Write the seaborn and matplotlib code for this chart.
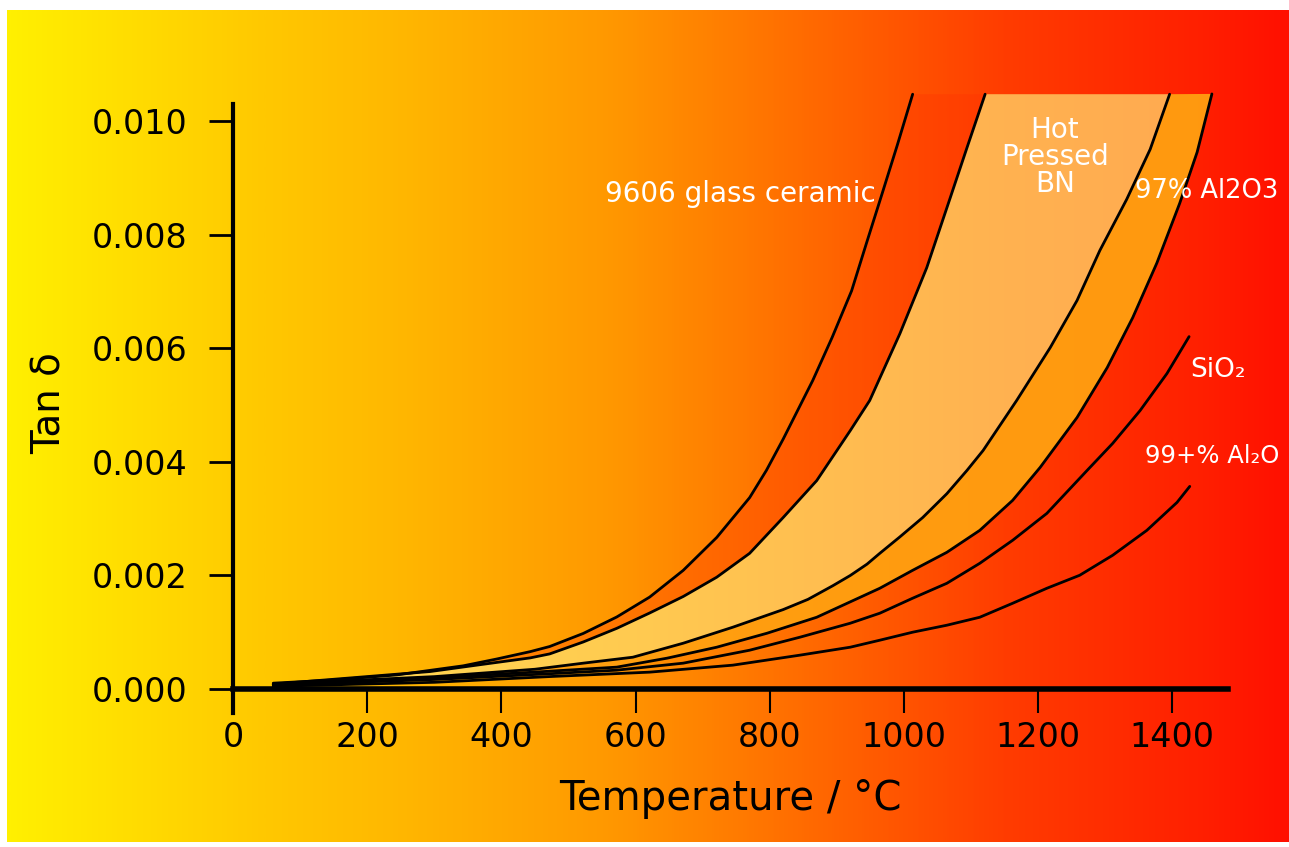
import numpy as np
import matplotlib
matplotlib.use("Agg")
import matplotlib.pyplot as plt
from matplotlib.colors import LinearSegmentedColormap
import seaborn as sns

# ---------------------------------------------------------------
# Data (temperature in degC, tan delta)
# ---------------------------------------------------------------
t_glass = [60, 145, 244, 343, 393, 443, 472, 522, 572, 621, 671, 721, 770, 795, 820,
           864, 893, 922, 945, 968, 990, 1013]
d_glass = [0.000105, 0.000158, 0.00025, 0.00041, 0.00053, 0.00066, 0.00075, 0.00098,
           0.00127, 0.00162, 0.00209, 0.00267, 0.00337, 0.00385, 0.0044,
           0.00543, 0.00619, 0.00701, 0.00788, 0.00874, 0.00957, 0.01047]

t_bn_low = [60, 294, 368, 443, 472, 522, 572, 621, 671, 721, 770, 820, 870, 920, 949,
            994, 1034, 1069, 1094, 1121]
d_bn_low = [0.000088, 0.00031, 0.00043, 0.00055, 0.00062, 0.00083, 0.00107, 0.00134,
            0.00163, 0.00197, 0.00239, 0.00302, 0.00367, 0.00455, 0.00508,
            0.006257, 0.007417, 0.008647, 0.00953, 0.01047]

t_bn_high = [60, 300, 450, 522, 596, 671, 745, 820, 857, 894, 920, 945, 964, 994, 1028,
             1064, 1094, 1118, 1168, 1218, 1258, 1292, 1332, 1367, 1396]
d_bn_high = [0.00009, 0.00022, 0.00035, 0.000457, 0.000562, 0.000808, 0.00109, 0.0014,
             0.00158, 0.00182, 0.002, 0.0022, 0.00239, 0.00268, 0.00302,
             0.00344, 0.00385, 0.0042, 0.00508, 0.00601, 0.00684, 0.00772, 0.00862,
             0.0095, 0.01047]

t_al97 = [60, 300, 450, 572, 647, 721, 796, 870, 964, 1013, 1064, 1113, 1162, 1203,
          1258, 1303, 1341, 1377, 1411, 1437, 1459]
d_al97 = [0.00008, 0.0002, 0.0003, 0.000387, 0.000545, 0.000738, 0.000984, 0.001265,
          0.001775, 0.002091, 0.002408, 0.002794, 0.003322, 0.003902, 0.00478, 0.005659,
          0.006538, 0.0075, 0.00855, 0.00945, 0.010475]

t_sio2 = [60, 300, 470, 572, 671, 770, 845, 920, 964, 1013, 1064, 1113, 1162, 1213,
          1273, 1311, 1352, 1392, 1425]
d_sio2 = [0.00007, 0.00017, 0.00027, 0.000334, 0.000457, 0.000685, 0.000914, 0.00116,
          0.001336, 0.0016, 0.001863, 0.002214, 0.002619, 0.003093, 0.003849, 0.004323,
          0.004903, 0.005554, 0.006204]

t_al99 = [60, 300, 470, 621, 745, 845, 920, 964, 1013, 1064, 1113, 1162, 1213, 1262,
          1311, 1362, 1407, 1426]
d_al99 = [0.00005, 0.00012, 0.00022, 0.000299, 0.000422, 0.000598, 0.000738, 0.000861,
          0.001002, 0.001125, 0.001265, 0.001511, 0.001775, 0.002004, 0.002355, 0.002794,
          0.003286, 0.003568]

x_ticks = [0, 200, 400, 600, 800, 1000, 1200, 1400]
y_ticks = [0.000, 0.002, 0.004, 0.006, 0.008, 0.010]

# ---------------------------------------------------------------
# Figure
# ---------------------------------------------------------------
sns.set_theme(style="ticks")
plt.rcParams["font.family"] = ["DejaVu Sans"]

W, H = 1289, 847
fig = plt.figure(figsize=(W / 100, H / 100), dpi=100)
fig.patch.set_facecolor("white")

# yellow -> red background gradient
grad_cmap = LinearSegmentedColormap.from_list("heat", [
    (0.00, "#fff000"), (0.10, "#ffdc00"), (0.20, "#ffc800"), (0.30, "#ffb800"),
    (0.47, "#ff9800"), (0.58, "#ff7800"), (0.68, "#ff5a00"), (0.78, "#ff3c00"),
    (0.93, "#ff2000"), (1.00, "#ff1000")])
bg = fig.add_axes([7 / W, 5 / H, 1 - 7 / W, 1 - 15 / H], zorder=-5)
bg.imshow(np.linspace(0, 1, 512)[None, :], aspect="auto", cmap=grad_cmap)
bg.axis("off")

y_low = -0.00042
ax = fig.add_axes([233 / W, (H - 713) / H, (1228 - 233) / W, (713 - 92.5) / H])
ax.patch.set_alpha(0)

# filled bands
ax.fill(t_glass + t_bn_low[::-1], d_glass + d_bn_low[::-1],
        color="#ff3000", alpha=0.3, lw=0, zorder=1)
ax.fill(t_bn_low + t_bn_high[::-1], d_bn_low + d_bn_high[::-1],
        color="#ffe070", alpha=0.72, lw=0, zorder=1)
ax.fill(t_bn_high + t_al97[::-1], d_bn_high + d_al97[::-1],
        color="#ffa010", alpha=0.95, lw=0, zorder=1)

for tt, dd in [(t_glass, d_glass), (t_bn_low, d_bn_low), (t_bn_high, d_bn_high),
               (t_al97, d_al97), (t_sio2, d_sio2), (t_al99, d_al99)]:
    sns.lineplot(x=tt, y=dd, sort=False, estimator=None, color="black", lw=2,
                 ax=ax, zorder=3)

ax.set_xlim(0, 1483)
ax.set_ylim(y_low, 0.0105)

for s in ["top", "right"]:
    ax.spines[s].set_visible(False)
ax.spines["bottom"].set_position(("data", 0))
ax.spines["bottom"].set_linewidth(4)
ax.spines["left"].set_linewidth(3)
ax.spines["left"].set_bounds(y_low, 0.0103)
for s in ["bottom", "left"]:
    ax.spines[s].set_color("black")

ax.set_xticks(x_ticks)
ax.set_xticklabels([str(v) for v in x_ticks])
ax.set_yticks(y_ticks)
ax.set_yticklabels([f"{v:.3f}" for v in y_ticks])
ax.tick_params(axis="x", direction="out", length=17, width=1.5, pad=6,
               labelsize=24, colors="black")
ax.tick_params(axis="y", direction="out", length=17, width=2, pad=16,
               labelsize=24, colors="black")

ax.set_xlabel("Temperature / °C", fontsize=29, labelpad=18, color="black")
ax.set_ylabel("Tan δ", fontsize=28, labelpad=16, color="black")

# curve labels
lab = dict(color="white", zorder=5)
ax.text(958, 0.00872, "9606 glass ceramic", ha="right", va="center", fontsize=20, **lab)
ax.text(1225, 0.00937, "Hot\nPressed\nBN", ha="center", va="center",
        linespacing=0.95, fontsize=20, **lab)
ax.text(1344, 0.00877, "97% Al2O3", ha="left", va="center", fontsize=18.5, **lab)
ax.text(1426, 0.00561, "SiO₂", ha="left", va="center", fontsize=19, **lab)
ax.text(1359, 0.00411, "99+% Al₂O", ha="left", va="center", fontsize=17.5, **lab)

fig.savefig("out.png", dpi=100)
